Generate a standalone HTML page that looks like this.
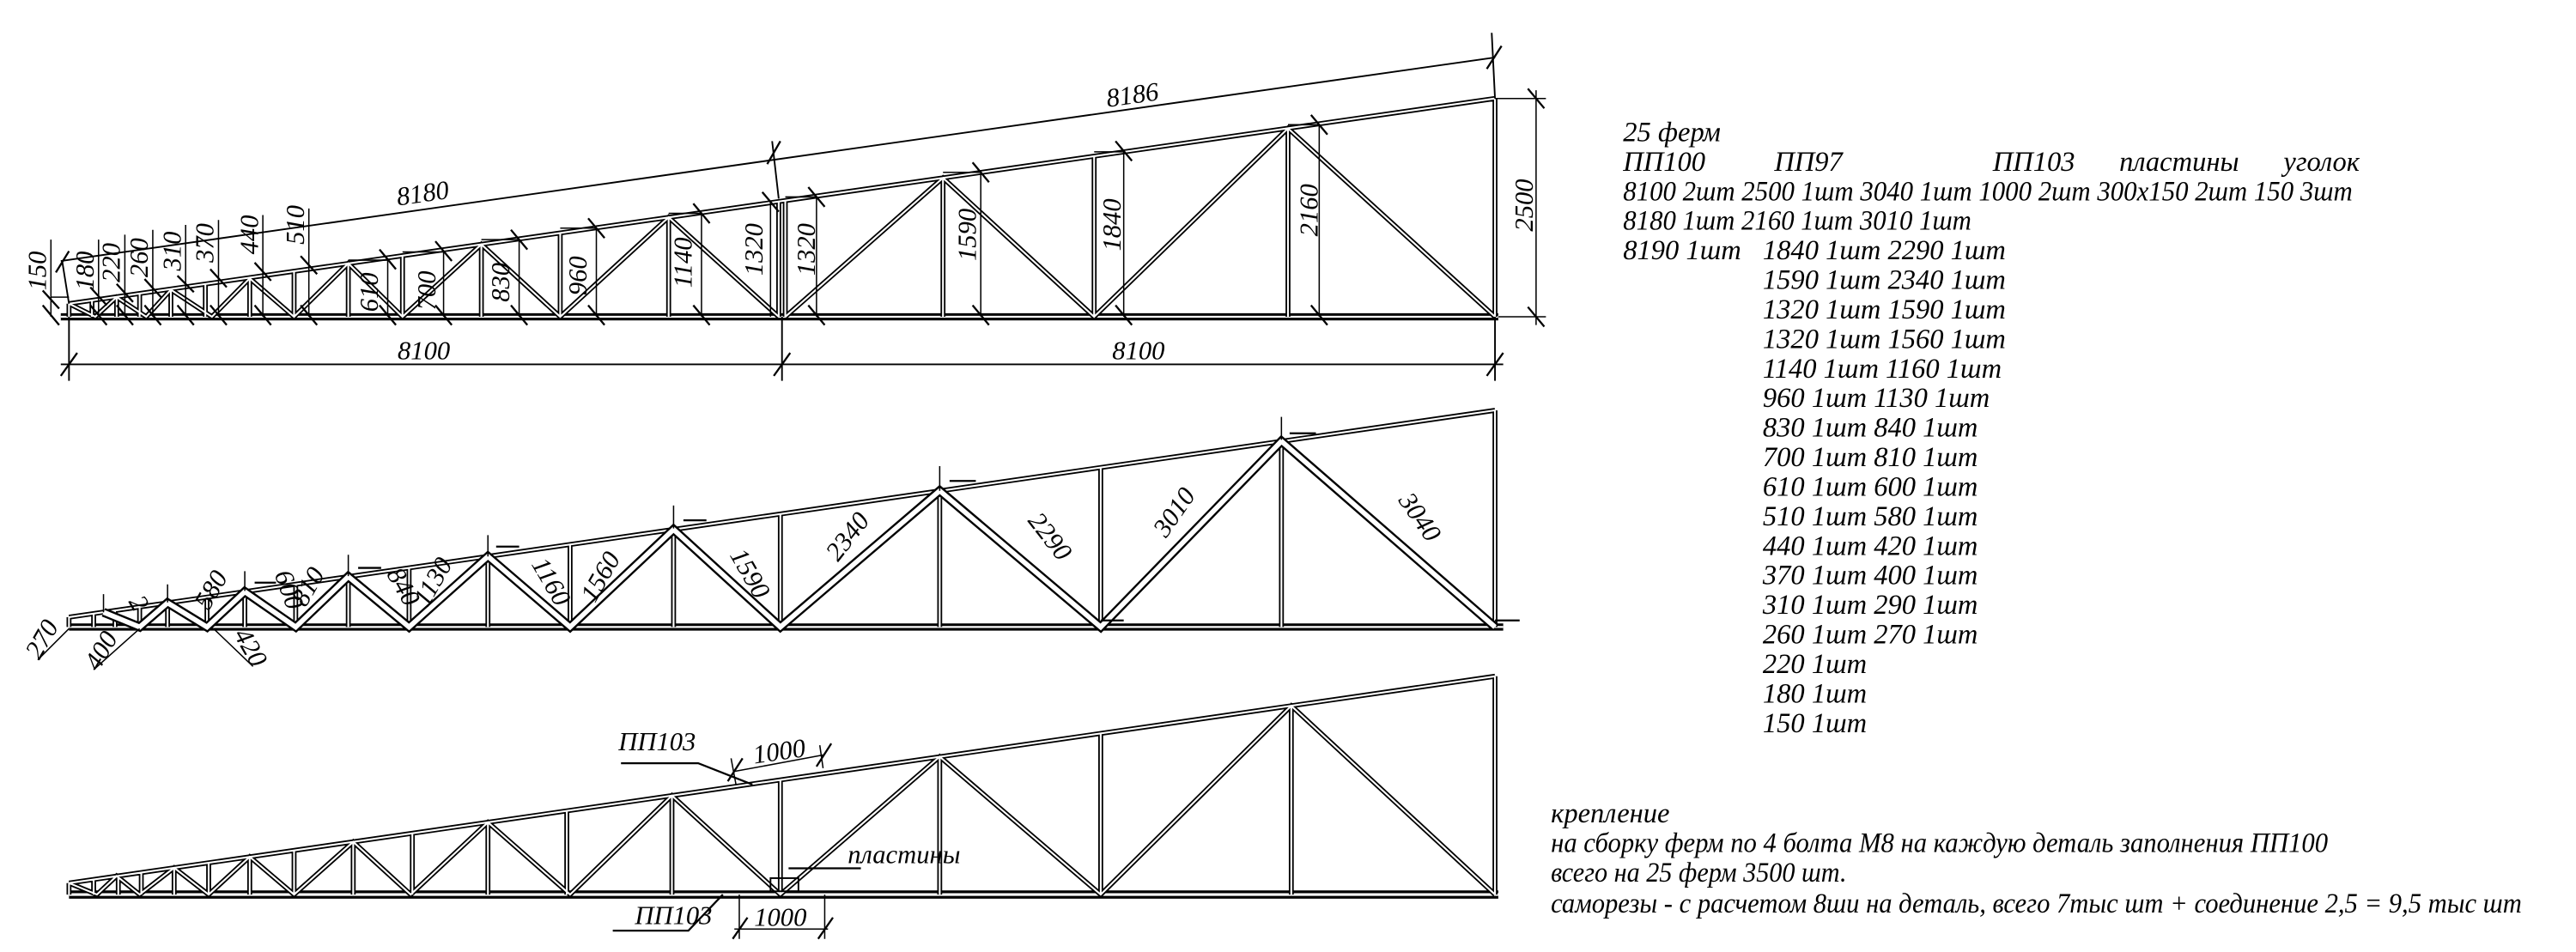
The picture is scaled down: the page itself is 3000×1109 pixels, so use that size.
<!DOCTYPE html>
<html><head><meta charset="utf-8"><style>
html,body{margin:0;padding:0;background:#fff}
svg{display:block}
.t{font-family:"Liberation Serif","DejaVu Serif",serif;font-style:italic;fill:#000}
.b{fill:none;stroke:#000;stroke-width:3;stroke-linejoin:miter}
.w{fill:none;stroke:#fff;stroke-width:1.1}
.bd{fill:none;stroke:#000;stroke-width:4.4}
.wd{fill:none;stroke:#fff;stroke-width:2.2}
.th{fill:none;stroke:#000;stroke-width:0.8}
.tk{fill:none;stroke:#000;stroke-width:1.2}
</style></head><body>
<svg width="3000" height="1109" viewBox="0 0 1568 580" preserveAspectRatio="none" xmlns="http://www.w3.org/2000/svg">
<defs>
<path id="T1" d="M42 185L910 60 M42 193V185 M56 193V183 M71 193V181 M85 193V179 M104 193V176.5 M125 193V173.3 M152 193V169.6 M179 193V165.8 M212 193V160.5 M245 193V155.8 M293 193V148.9 M341 193V141.9 M407 193V132.4 M474 193V122.8 M478 193V122.3 M574 193V108.4 M666 193V95.1 M784 193V78.2 M910 193V60 M42 185L58 193L71 181L89 193L104 176.5L129 193L152 169.6L179 193L212 160.5L245 193L293 148.9L341 193L407 132.4L474 193 M478 193L574 108.4L666 193L784 78.2L910 193"/>
<path id="T2v" d="M42 376L910 250 M42 382V376 M57 382V373.8 M70 382V371.9 M85 382V369.8 M102 382V367.3 M126 382V363.8 M149 382V360.5 M180 382V356 M212 382V351.3 M249 382V345.9 M297 382V339 M347 382V331.7 M410 382V322.6 M475 382V313.1 M572 382V299 M670 382V284.8 M780 382V268.8 M910 382V250"/>
<path id="T2d" d="M63 373L85 382L102 367.3L126 382L149 360.5L180 382L212 351.3L249 382L297 339L347 382L410 322.6L475 382L572 299L670 382L780 268.8L910 382"/>
<path id="T3" d="M42 538L910 412 M42 545V538 M57 545V535.8 M72 545V533.6 M86 545V531.6 M106 545V528.7 M127 545V525.7 M152 545V522 M179 545V518.1 M215 545V512.9 M251 545V507.7 M297 545V501 M345 545V494 M409 545V484.7 M475 545V475.1 M572 545V461 M670 545V446.8 M786 545V430 M910 545V412 M42 538L59 545L71 533.7L85 545L106 528.7L127 545L152 522L179 545L215 512.9L250 545L297 501L347 545L409 484.7L475 545L572 461L670 545L786 430L910 545"/>
</defs>

<!-- TOP TRUSS -->
<path class="bd" d="M37 193H912"/><path class="wd" d="M37 193H912" style="stroke-width:1.2"/>
<use href="#T1" class="b"/><use href="#T1" class="w"/>
<!-- overall slope dimension -->
<path class="th" d="M37 159L910 35 M910 60L908 20 M474 121L470 86 M42 185L38 160" style="stroke-width:1"/>
<path class="tk" d="M34 166L42 153 M905 42L914 28 M467 100L475 86"/>
<text class="t" font-size="16" transform="translate(258,123) rotate(-8)" text-anchor="middle">8180</text>
<text class="t" font-size="16" transform="translate(690,63) rotate(-8)" text-anchor="middle">8186</text>
<!-- small vertical dims -->
<path class="th" d="M31 193V146 M60 193V146 M76 193V143 M93 193V140 M113 193V137 M133 193V134 M160 193V131 M188 193V127 M31 185V193 M31 181H42"/>
<path class="tk" d="M26 186L36 198 M55 186L65 198 M71 186L81 198 M88 186L98 198 M108 186L118 198 M128 186L138 198 M155 186L165 198 M183 186L193 198 M26 177L36 188 M55 175L65 186 M71 173L81 184 M88 170L98 181 M108 168L118 178 M128 164L138 175 M155 160L165 171 M183 156L193 167"/>
<g class="t" font-size="16" text-anchor="middle">
<text transform="translate(28,165) rotate(-90)">150</text>
<text transform="translate(57,165) rotate(-90)">180</text>
<text transform="translate(73,160) rotate(-90)">220</text>
<text transform="translate(90,157) rotate(-90)">260</text>
<text transform="translate(110,153) rotate(-90)">310</text>
<text transform="translate(130,148) rotate(-90)">370</text>
<text transform="translate(157,143) rotate(-90)">440</text>
<text transform="translate(185,137) rotate(-90)">510</text>
<text transform="translate(230,178) rotate(-90)">610</text>
<text transform="translate(265,177) rotate(-90)">700</text>
<text transform="translate(310,172) rotate(-90)">830</text>
<text transform="translate(357,168) rotate(-90)">960</text>
<text transform="translate(421,160) rotate(-90)">1140</text>
<text transform="translate(464,152) rotate(-90)">1320</text>
<text transform="translate(496,152) rotate(-90)">1320</text>
<text transform="translate(594,143) rotate(-90)">1590</text>
<text transform="translate(682,137) rotate(-90)">1840</text>
<text transform="translate(802,128) rotate(-90)">2160</text>
<text transform="translate(933,125) rotate(-90)">2500</text>
</g>
<!-- large vertical dims -->
<path class="th" d="M236 193V158.5 M270 193V153.5 M316 193V146 M363 193V139 M427 193V130 M469 193V123.5 M497 193V120 M597 193V105 M684 193V92.5 M803 193V76 M212 158.5H236 M245 153.5H270 M293 146H316 M341 139H363 M407 130H427 M478 120H497 M574 105H597 M666 92.5H684 M784 76H803"/>
<path class="tk" d="M231 186L241 198 M265 186L275 198 M311 186L321 198 M358 186L368 198 M422 186L432 198 M492 186L502 198 M592 186L602 198 M679 186L689 198 M798 186L808 198 M231 152L241 164 M265 147L275 159 M311 140L321 152 M358 133L368 145 M422 124L432 136 M464 117L474 129 M492 114L502 126 M592 99L602 111 M679 86L689 98 M798 70L808 82"/>
<!-- bottom dimension -->
<path class="th" d="M37 222H915 M42 193V232 M476 193V232 M910 193V232" style="stroke-width:1"/>
<path class="tk" d="M37 229L47 215 M471 229L481 215 M905 229L915 215"/>
<text class="t" font-size="16" x="258" y="219" text-anchor="middle">8100</text>
<text class="t" font-size="16" x="693" y="219" text-anchor="middle">8100</text>
<!-- 2500 dimension -->
<path class="th" d="M935 55V198 M910 60H941 M912 193H941"/>
<path class="tk" d="M930 54L940 66 M930 187L940 199"/>

<!-- MIDDLE TRUSS -->
<path class="bd" d="M42 382H915"/><path class="wd" d="M42 382H915" style="stroke-width:1.2"/>
<use href="#T2v" class="b"/><use href="#T2v" class="w"/>
<use href="#T2d" class="bd" style="stroke-width:5.5"/><use href="#T2d" class="wd" style="stroke-width:3"/>
<path class="th" d="M42 383L23 402 M85 383L57 408 M130 383L154 406 M410 322V308 M572 299V284 M780 268V254 M297 339V326 M212 351V338 M149 360V348 M102 367V356 M63 373V362"/>
<path class="tk" d="M578 293H594 M785 264H801 M416 317H430 M302 333H316 M218 346H232 M155 355H168 M670 378H684 M910 378H925"/>
<g class="t" font-size="16" text-anchor="middle">
<text transform="translate(30,392) rotate(-60)">270</text>
<text transform="translate(66,399) rotate(-60)">400</text>
<text transform="translate(148,397) rotate(60)">420</text>
<text transform="translate(80,370) rotate(60)">2</text>
<text transform="translate(133,362) rotate(-60)">580</text>
<text transform="translate(171,361) rotate(70)">600</text>
<text transform="translate(192,360) rotate(-60)">810</text>
<text transform="translate(241,360) rotate(60)">840</text>
<text transform="translate(268,357) rotate(-60)">1130</text>
<text transform="translate(331,357) rotate(60)">1160</text>
<text transform="translate(370,354) rotate(-60)">1560</text>
<text transform="translate(452,352) rotate(60)">1590</text>
<text transform="translate(520,330) rotate(-52)">2340</text>
<text transform="translate(635,330) rotate(52)">2290</text>
<text transform="translate(719,315) rotate(-55)">3010</text>
<text transform="translate(860,318) rotate(55)">3040</text>
</g>

<!-- BOTTOM TRUSS -->
<path class="bd" d="M42 545H912" style="stroke-width:5"/><path class="wd" d="M42 545H912" style="stroke-width:1.6"/>
<use href="#T3" class="b"/><use href="#T3" class="w"/>
<text class="t" font-size="16" x="400" y="457" text-anchor="middle">ПП103</text>
<path class="th" d="M378 465H425L458 478" style="stroke-width:1.2"/>
<path class="th" d="M447 470L501 460 M448 478L445 462 M501 468L499 454"/>
<path class="tk" d="M443 476L452 462 M497 467L506 453"/>
<text class="t" font-size="16" transform="translate(475,463) rotate(-8)" text-anchor="middle">1000</text>
<text class="t" font-size="16" x="516" y="526" text-anchor="start">пластины</text>
<path class="th" d="M480 529H524" style="stroke-width:1.2"/>
<rect x="469" y="535" width="17" height="8" fill="none" stroke="#000" stroke-width="1"/>
<text class="t" font-size="16" x="410" y="563" text-anchor="middle">ПП103</text>
<path class="th" d="M373 567H419L440 545" style="stroke-width:1.2"/>
<path class="th" d="M447 566H504 M450 545V572 M502 545V572"/>
<path class="tk" d="M446 572L455 559 M498 572L507 559"/>
<text class="t" font-size="16" x="475" y="564" text-anchor="middle">1000</text>

<!-- RIGHT TEXT -->
<g class="t" font-size="17">
<text x="988" y="86">25 ферм</text>
<text x="988" y="104">ПП100</text><text x="1080" y="104">ПП97</text><text x="1213" y="104">ПП103</text><text x="1290" y="104">пластины</text><text x="1390" y="104">уголок</text>
<text x="988" y="122" textLength="444" lengthAdjust="spacingAndGlyphs">8100 2шт  2500 1шт 3040 1шт 1000 2шт 300x150 2шт  150 3шт</text>
<text x="988" y="140" textLength="212" lengthAdjust="spacingAndGlyphs">8180 1шт  2160 1шт 3010 1шт</text>
<text x="988" y="158">8190 1шт</text>
<text x="1073" y="158">1840 1шт 2290 1шт</text>
<text x="1073" y="176">1590 1шт 2340 1шт</text>
<text x="1073" y="194">1320 1шт 1590 1шт</text>
<text x="1073" y="212">1320 1шт 1560 1шт</text>
<text x="1073" y="230">1140 1шт 1160 1шт</text>
<text x="1073" y="248">960 1шт  1130 1шт</text>
<text x="1073" y="266">830 1шт  840 1шт</text>
<text x="1073" y="284">700 1шт  810 1шт</text>
<text x="1073" y="302">610 1шт  600 1шт</text>
<text x="1073" y="320">510 1шт  580 1шт</text>
<text x="1073" y="338">440 1шт  420 1шт</text>
<text x="1073" y="356">370 1шт  400 1шт</text>
<text x="1073" y="374">310 1шт 290 1шт</text>
<text x="1073" y="392">260 1шт 270 1шт</text>
<text x="1073" y="410">220 1шт</text>
<text x="1073" y="428">180 1шт</text>
<text x="1073" y="446">150 1шт</text>
</g>
<g class="t" font-size="17">
<text x="944" y="501">крепление</text>
<text x="944" y="519" textLength="473" lengthAdjust="spacingAndGlyphs">на сборку ферм по 4 болта М8 на каждую деталь заполнения ПП100</text>
<text x="944" y="537" textLength="180" lengthAdjust="spacingAndGlyphs">всего на 25 ферм 3500 шт.</text>
<text x="944" y="556" textLength="591" lengthAdjust="spacingAndGlyphs">саморезы - с расчетом 8ши на деталь, всего 7тыс шт + соединение  2,5 = 9,5 тыс шт</text>
</g>
</svg>
</body></html>
